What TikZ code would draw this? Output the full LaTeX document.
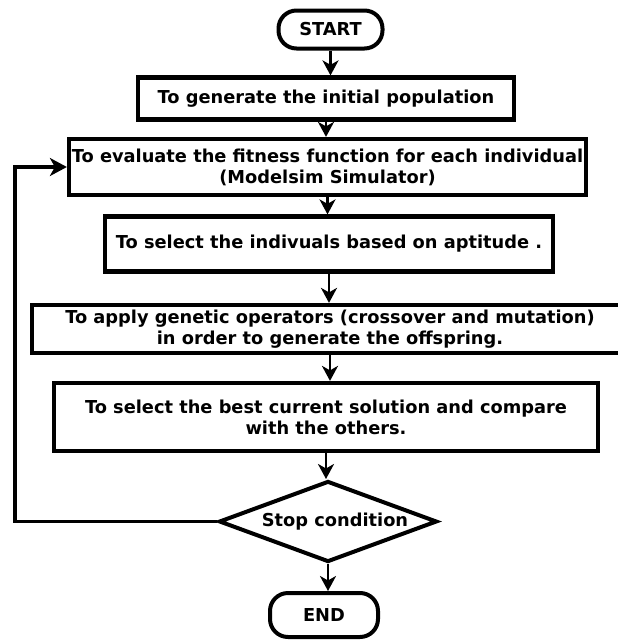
\documentclass[tikz,border=0pt]{standalone}
\usepackage{fontspec}
\setmainfont{DejaVu Sans}
\usetikzlibrary{shapes.geometric,arrows.meta}
\begin{document}
\begin{tikzpicture}[x=1pt,y=-1pt,
  every node/.style={font=\bfseries\fontsize{17.8}{21}\selectfont, align=center, inner sep=0pt},
  stepbox/.style={draw, line width=4.2pt, rectangle},
  terminal/.style={draw, line width=4pt, rectangle, rounded corners=18pt},
  decision/.style={draw, line width=4pt, diamond, aspect=2.6},
  arr/.style={line width=2.6pt, -{Stealth[length=15pt,width=16pt,inset=4.5pt]}},
  loopline/.style={line width=3.6pt, -{Stealth[length=17pt,width=18pt,inset=5pt]}}]
\useasboundingbox (0,0) rectangle (618,641);
\clip (0,0) rectangle (618,641);

% terminals
\node[terminal, minimum width=104pt, minimum height=38pt] (start) at (330.5,29.5) {START};
\node[terminal, minimum width=108pt, minimum height=44pt] (end) at (324,615) {END};

% process steps
\node[stepbox, minimum width=376pt, minimum height=42pt] (s1) at (326,98.5)
  {To generate the initial population};
\node[stepbox, minimum width=517pt, minimum height=56pt] (s2) at (327.5,167)
  {To evaluate the fitness function for each individual\\(Modelsim Simulator)};
\node[stepbox, minimum width=448pt, minimum height=55pt] (s3) at (329,244)
  {To select the indivuals based on aptitude .};
\node[stepbox, minimum width=596pt, minimum height=48pt] (s4) at (330,329)
  {To apply genetic operators (crossover and mutation)\\in order to generate the offspring.};
\node[stepbox, minimum width=544pt, minimum height=68pt] (s5) at (326,417)
  {To select the best current solution and compare\\with the others.};

% decision
\node[decision, minimum width=218pt, minimum height=81pt] (stop) at (328,521.5)
  {\hspace*{14pt}Stop condition};

% main flow
\draw[arr] (start.south) -- (start.south |- s1.north);
\draw[arr] (s1.south) -- (s1.south |- s2.north);
\draw[arr] (s2.south) -- (s2.south |- s3.north);
\draw[arr] (s3.south) -- (s3.south |- s4.north);
\draw[arr] (s4.south) -- (s4.south |- s5.north);
\draw[arr] (s5.south) -- (s5.south |- stop.north);
\draw[arr] (stop.south) -- (stop.south |- end.north);

% feedback loop back to evaluation
\coordinate (loopx) at (15,0);
\draw[loopline] (stop.west) -- (stop.west -| loopx) |- (s2.west);
\end{tikzpicture}
\end{document}
